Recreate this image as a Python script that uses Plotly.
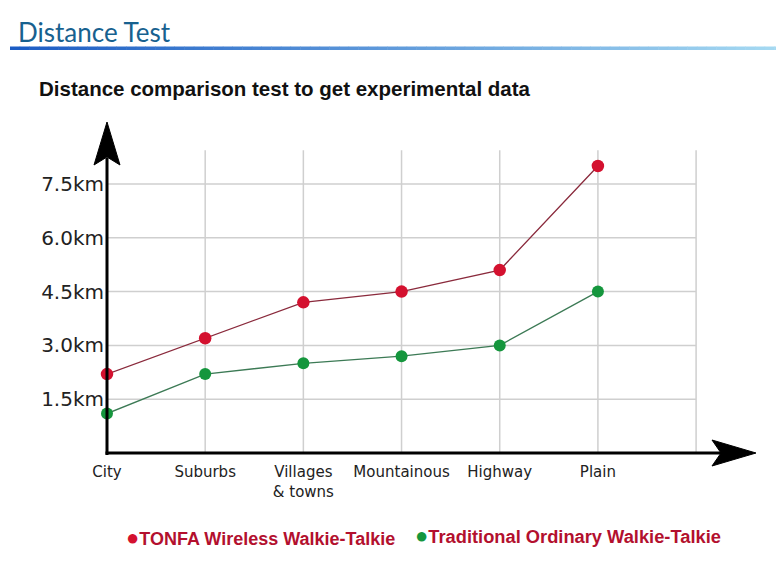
import plotly.graph_objects as go

# ---- data ----
categories = ["City", "Suburbs", "Villages<br>& towns", "Mountainous", "Highway", "Plain"]
tonfa_km = [2.2, 3.2, 4.2, 4.5, 5.1, 8.0]
traditional_km = [1.1, 2.2, 2.5, 2.7, 3.0, 4.5]
y_tick_vals = [1.5, 3.0, 4.5, 6.0, 7.5]
y_tick_text = ["1.5km", "3.0km", "4.5km", "6.0km", "7.5km"]

# ---- layout constants (screen pixels; page body has an 8px margin) ----
OFF = 8
W, H = 784 - OFF, 566 - OFF
L, R, T, B = 107, 755, 123, 453   # plot area in screen pixels
PW, PH = R - L, B - T
X_MAX = 6.6
Y_MAX = 9.2
GRID_TOP = 8.44
N_GRID_X = 7


def px(x):
    return (x - L) / PW


def py(y):
    return (B - y) / PH


fig = go.Figure()

RED = "#d4112f"
GREEN = "#15963d"

fig.add_trace(go.Scatter(
    x=list(range(len(categories))), y=tonfa_km, mode="lines+markers",
    line=dict(color="#8a2a3c", width=1.3),
    marker=dict(color=RED, size=12.5),
    cliponaxis=False, showlegend=False, name="TONFA Wireless Walkie-Talkie"))
fig.add_trace(go.Scatter(
    x=list(range(len(categories))), y=traditional_km, mode="lines+markers",
    line=dict(color="#3c7a55", width=1.3),
    marker=dict(color=GREEN, size=12),
    cliponaxis=False, showlegend=False, name="Traditional Ordinary Walkie-Talkie"))

shapes = []
# gridlines
for v in y_tick_vals:
    shapes.append(dict(type="line", xref="x", yref="y", x0=0, x1=N_GRID_X - 1, y0=v, y1=v,
                       line=dict(color="#cfcfcf", width=1.5), layer="below"))
for i in range(N_GRID_X):
    shapes.append(dict(type="line", xref="x", yref="y", x0=i, x1=i, y0=0, y1=GRID_TOP,
                       line=dict(color="#cfcfcf", width=1.5), layer="below"))
# axes lines
shapes.append(dict(type="line", xref="paper", yref="paper", x0=px(107), x1=px(107),
                   y0=py(455), y1=py(158), line=dict(color="black", width=3)))
shapes.append(dict(type="line", xref="paper", yref="paper", x0=px(105.5), x1=px(722),
                   y0=py(453), y1=py(453), line=dict(color="black", width=3)))


def path(points):
    return "M " + " L ".join(f"{px(a):.5f},{py(b):.5f}" for a, b in points) + " Z"


# arrowheads
shapes.append(dict(type="path", xref="paper", yref="paper",
                   path=path([(107, 122), (120, 165), (107, 157), (94, 165)]),
                   fillcolor="black", line=dict(color="black", width=1)))
shapes.append(dict(type="path", xref="paper", yref="paper",
                   path=path([(756, 453), (712, 466), (721, 453), (712, 440)]),
                   fillcolor="black", line=dict(color="black", width=1)))

# gradient underline below header
c0 = (27, 92, 196)
c1 = (166, 218, 242)
N = 80
x_start, x_end = 10, 784
for k in range(N):
    t = k / (N - 1)
    c = tuple(int(round(c0[j] + (c1[j] - c0[j]) * t)) for j in range(3))
    xa = x_start + (x_end - x_start) * k / N
    xb = x_start + (x_end - x_start) * (k + 1) / N + 0.5
    shapes.append(dict(type="rect", xref="paper", yref="paper",
                       x0=px(xa), x1=px(xb), y0=py(50), y1=py(46.5),
                       fillcolor=f"rgb{c}", line=dict(width=0)))

annotations = [
    dict(text="Distance Test", xref="paper", yref="paper", x=px(16), y=py(32),
         xanchor="left", yanchor="middle", showarrow=False,
         font=dict(family="Lato", size=26, color="#17618f")),
    dict(text="<b>Distance comparison test to get experimental data</b>", xref="paper", yref="paper",
         x=px(37), y=py(88), xanchor="left", yanchor="middle", showarrow=False,
         font=dict(family="Liberation Sans", size=20.5, color="#111111")),
    dict(text=f"<span style='color:{RED};font-size:22px'>●</span><b>TONFA Wireless Walkie-Talkie</b>",
         xref="paper", yref="paper", x=px(124), y=py(537), xanchor="left", yanchor="middle",
         showarrow=False, font=dict(family="Liberation Sans", size=18, color="#b3102e")),
    dict(text=f"<span style='color:{GREEN};font-size:22px'>●</span><b>Traditional Ordinary Walkie-Talkie</b>",
         xref="paper", yref="paper", x=px(413), y=py(535), xanchor="left", yanchor="middle",
         showarrow=False, font=dict(family="Liberation Sans", size=18.3, color="#b3102e")),
]

fig.update_layout(
    width=W, height=H, autosize=False,
    margin=dict(l=L - OFF, r=(W + OFF) - R, t=T - OFF, b=(H + OFF) - B),
    paper_bgcolor="white", plot_bgcolor="white",
    shapes=shapes, annotations=annotations,
    xaxis=dict(range=[0, X_MAX], showgrid=False, zeroline=False, showline=False,
               tickmode="array", tickvals=list(range(len(categories))), ticktext=categories,
               ticks="", ticklabelstandoff=8,
               tickfont=dict(family="DejaVu Sans", size=15, color="#222222")),
    yaxis=dict(range=[0, Y_MAX], showgrid=False, zeroline=False, showline=False,
               tickmode="array", tickvals=y_tick_vals, ticktext=y_tick_text,
               ticks="", ticklabelstandoff=2,
               tickfont=dict(family="DejaVu Sans", size=20, color="#222222")),
)

fig.write_html("out.html")
